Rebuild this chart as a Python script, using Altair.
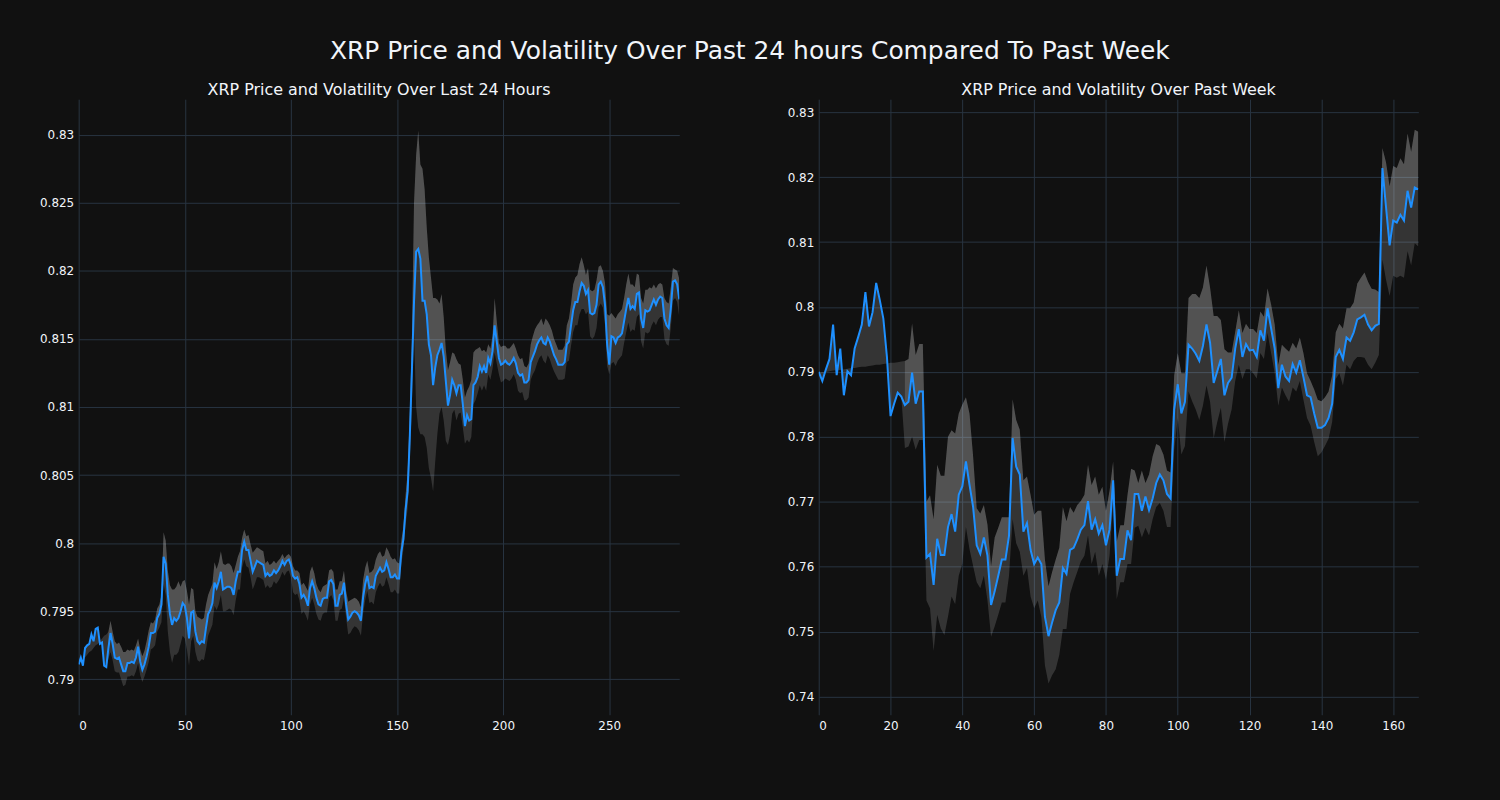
import altair as alt
import pandas as pd

# ---------------- Left panel: last 24 hours ----------------
left_price = [
    0.7911, 0.7916, 0.7910, 0.7923, 0.7925, 0.7926, 0.7933, 0.7928, 0.7937, 0.7938,
    0.7926, 0.7927, 0.7910, 0.7909, 0.7923, 0.7934, 0.7926, 0.7916, 0.7915, 0.7916,
    0.7911, 0.7906, 0.7906, 0.7912, 0.7912, 0.7913, 0.7912, 0.7916, 0.7924, 0.7913,
    0.7907, 0.7911, 0.7917, 0.7924, 0.7934, 0.7934, 0.7935, 0.7945, 0.7948, 0.7955,
    0.7990, 0.7985, 0.7962, 0.7948, 0.7940, 0.7945, 0.7943, 0.7945, 0.7950, 0.7956,
    0.7954, 0.7945, 0.7930, 0.7949, 0.7950, 0.7935, 0.7928, 0.7926, 0.7928, 0.7927,
    0.7938, 0.7948, 0.7951, 0.7956, 0.7971, 0.7967, 0.7972, 0.7979, 0.7966, 0.7967,
    0.7968, 0.7968, 0.7967, 0.7962, 0.7972, 0.7979, 0.7979, 0.7995, 0.8001, 0.7995,
    0.7995, 0.7987, 0.7979, 0.7983, 0.7987, 0.7986, 0.7985, 0.7984, 0.7976, 0.7978,
    0.7976, 0.7977, 0.7980, 0.7978, 0.7980, 0.7983, 0.7987, 0.7984, 0.7987, 0.7988,
    0.7984, 0.7976, 0.7974, 0.7975, 0.7970, 0.7960, 0.7962, 0.7959, 0.7954, 0.7967,
    0.7972, 0.7967, 0.7960, 0.7955, 0.7954, 0.7959, 0.7960, 0.7960, 0.7972, 0.7973,
    0.7970, 0.7954, 0.7954, 0.7962, 0.7963, 0.7971, 0.7955, 0.7944, 0.7946, 0.7949,
    0.7950, 0.7949, 0.7947, 0.7943, 0.7960, 0.7970, 0.7976, 0.7967, 0.7968, 0.7967,
    0.7976, 0.7979, 0.7982, 0.7979, 0.7980, 0.7986, 0.7981, 0.7975, 0.7975, 0.7977,
    0.7974, 0.7974, 0.7993, 0.8003, 0.8024, 0.8038, 0.8077, 0.8126, 0.8177, 0.8214,
    0.8216, 0.8209, 0.8178, 0.8178, 0.8168, 0.8146, 0.8138, 0.8116, 0.8129, 0.8138,
    0.8142, 0.8147, 0.8137, 0.8119, 0.8101, 0.8109, 0.8120, 0.8116, 0.8110, 0.8116,
    0.8116, 0.8102, 0.8086, 0.8094, 0.8090, 0.8091, 0.8116, 0.8118, 0.8122, 0.8130,
    0.8126, 0.8130, 0.8125, 0.8136, 0.8132, 0.8141, 0.8160, 0.8148, 0.8136, 0.8131,
    0.8132, 0.8134, 0.8132, 0.8131, 0.8133, 0.8136, 0.8132, 0.8125, 0.8123, 0.8124,
    0.8118, 0.8118, 0.8120, 0.8133, 0.8137, 0.8141, 0.8146, 0.8149, 0.8151, 0.8147,
    0.8146, 0.8151, 0.8148, 0.8143, 0.8138, 0.8135, 0.8131, 0.8131, 0.8131, 0.8133,
    0.8146, 0.8148, 0.8160, 0.8171, 0.8177, 0.8177, 0.8185, 0.8191, 0.8189, 0.8183,
    0.8186, 0.8169, 0.8168, 0.8169, 0.8175, 0.8190, 0.8192, 0.8188, 0.8175, 0.8146,
    0.8131, 0.8152, 0.8151, 0.8147, 0.8151, 0.8152, 0.8154, 0.8163, 0.8172, 0.8180,
    0.8172, 0.8174, 0.8172, 0.8183, 0.8184, 0.8165, 0.8158, 0.8171, 0.8170, 0.8171,
    0.8175, 0.8179, 0.8175, 0.8179, 0.8181, 0.8180, 0.8165, 0.8160, 0.8158, 0.8172,
    0.8192, 0.8193, 0.8190, 0.8179,
]

left_upper = [
    0.7911, 0.7913, 0.7914, 0.7916, 0.7918, 0.7920, 0.7921, 0.7923, 0.7925, 0.7926,
    0.7928, 0.7930, 0.7932, 0.7933, 0.7935, 0.7943, 0.7935, 0.7928, 0.7926, 0.7927,
    0.7924, 0.7920, 0.7920, 0.7922, 0.7921, 0.7922, 0.7921, 0.7925, 0.7930, 0.7922,
    0.7917, 0.7921, 0.7928, 0.7936, 0.7942, 0.7941, 0.7944, 0.7952, 0.7955, 0.7962,
    0.8008, 0.8002, 0.7980, 0.7969, 0.7966, 0.7966, 0.7968, 0.7972, 0.7968, 0.7972,
    0.7973, 0.7965, 0.7955, 0.7967, 0.7966, 0.7950, 0.7946, 0.7945, 0.7944, 0.7945,
    0.7955, 0.7962, 0.7966, 0.7970, 0.7986, 0.7981, 0.7986, 0.7994, 0.7985, 0.7984,
    0.7985, 0.7985, 0.7983, 0.7978, 0.7984, 0.7990, 0.7994, 0.8004, 0.8010, 0.8005,
    0.8006, 0.7999, 0.7993, 0.7995, 0.7997, 0.7996, 0.7995, 0.7994, 0.7985, 0.7987,
    0.7984, 0.7985, 0.7987, 0.7985, 0.7987, 0.7989, 0.7992, 0.7989, 0.7991, 0.7992,
    0.7990, 0.7983, 0.7980, 0.7980, 0.7978, 0.7969, 0.7971, 0.7968, 0.7965, 0.7979,
    0.7983, 0.7978, 0.7970, 0.7966, 0.7964, 0.7968, 0.7969, 0.7970, 0.7980, 0.7981,
    0.7979, 0.7966, 0.7966, 0.7972, 0.7972, 0.7980, 0.7965, 0.7957, 0.7958, 0.7959,
    0.7960, 0.7959, 0.7957, 0.7953, 0.7973, 0.7982, 0.7987, 0.7978, 0.7979, 0.7981,
    0.7988, 0.7992, 0.7994, 0.7990, 0.7991, 0.7997, 0.7994, 0.7990, 0.7988, 0.7989,
    0.7986, 0.7985, 0.8002, 0.8012, 0.8035, 0.8052, 0.8095, 0.8150, 0.8250, 0.8285,
    0.8303, 0.8278, 0.8275, 0.8260, 0.8232, 0.8210, 0.8195, 0.8180, 0.8180, 0.8179,
    0.8176, 0.8183, 0.8166, 0.8142, 0.8127, 0.8133, 0.8140, 0.8139, 0.8135, 0.8132,
    0.8131, 0.8120, 0.8107, 0.8112, 0.8115, 0.8120, 0.8140, 0.8142, 0.8143, 0.8144,
    0.8141, 0.8142, 0.8140, 0.8146, 0.8143, 0.8152, 0.8180, 0.8163, 0.8147, 0.8144,
    0.8145, 0.8145, 0.8143, 0.8143, 0.8145, 0.8147, 0.8143, 0.8138, 0.8135, 0.8136,
    0.8130, 0.8129, 0.8132, 0.8146, 0.8152, 0.8157, 0.8160, 0.8162, 0.8165, 0.8160,
    0.8165, 0.8163, 0.8160, 0.8156, 0.8150, 0.8146, 0.8142, 0.8142, 0.8142, 0.8145,
    0.8160, 0.8165, 0.8176, 0.8190, 0.8195, 0.8197, 0.8205, 0.8210, 0.8204, 0.8197,
    0.8202, 0.8186, 0.8185, 0.8186, 0.8193, 0.8203, 0.8204, 0.8200, 0.8191, 0.8168,
    0.8167, 0.8169, 0.8167, 0.8165, 0.8168, 0.8170, 0.8172, 0.8180, 0.8190, 0.8198,
    0.8190, 0.8190, 0.8188, 0.8198, 0.8197, 0.8180, 0.8176, 0.8186, 0.8186, 0.8188,
    0.8187, 0.8190, 0.8187, 0.8190, 0.8191, 0.8190, 0.8180, 0.8177, 0.8176, 0.8188,
    0.8202, 0.8201, 0.8200, 0.8194,
]

left_band_start = 14
left_lower = [None] * 14 + [
    0.7915, 0.7920, 0.7914, 0.7906, 0.7905, 0.7905,
    0.7900, 0.7895, 0.7896, 0.7902, 0.7902, 0.7903, 0.7902, 0.7906, 0.7912, 0.7903,
    0.7898, 0.7902, 0.7907, 0.7913, 0.7922, 0.7923, 0.7925, 0.7935, 0.7938, 0.7942,
    0.7970, 0.7962, 0.7935, 0.7920, 0.7912, 0.7918, 0.7918, 0.7920, 0.7926, 0.7932,
    0.7930, 0.7922, 0.7910, 0.7928, 0.7932, 0.7920, 0.7914, 0.7913, 0.7915, 0.7914,
    0.7922, 0.7932, 0.7936, 0.7940, 0.7954, 0.7951, 0.7955, 0.7962, 0.7950, 0.7950,
    0.7951, 0.7952, 0.7951, 0.7947, 0.7958, 0.7966, 0.7966, 0.7982, 0.7988, 0.7983,
    0.7982, 0.7975, 0.7966, 0.7970, 0.7975, 0.7975, 0.7974, 0.7973, 0.7967, 0.7969,
    0.7967, 0.7968, 0.7972, 0.7970, 0.7972, 0.7975, 0.7979, 0.7976, 0.7979, 0.7980,
    0.7975, 0.7964, 0.7962, 0.7963, 0.7958, 0.7948, 0.7950, 0.7947, 0.7943, 0.7955,
    0.7960, 0.7955, 0.7948, 0.7944, 0.7943, 0.7948, 0.7949, 0.7949, 0.7960, 0.7962,
    0.7958, 0.7943, 0.7943, 0.7951, 0.7952, 0.7960, 0.7945, 0.7933, 0.7934, 0.7937,
    0.7939, 0.7938, 0.7936, 0.7932, 0.7948, 0.7958, 0.7965, 0.7956, 0.7957, 0.7955,
    0.7964, 0.7968, 0.7971, 0.7968, 0.7969, 0.7975, 0.7970, 0.7964, 0.7964, 0.7966,
    0.7963, 0.7963, 0.7984, 0.7995, 0.8013, 0.8025, 0.8060, 0.8102, 0.8155, 0.8100,
    0.8085, 0.8080, 0.8080, 0.8078, 0.8070, 0.8055, 0.8048, 0.8038, 0.8060, 0.8080,
    0.8095, 0.8100, 0.8090, 0.8075, 0.8072, 0.8080, 0.8095, 0.8098, 0.8090, 0.8095,
    0.8096, 0.8085, 0.8073, 0.8076, 0.8074, 0.8078, 0.8102, 0.8105, 0.8110, 0.8116,
    0.8112, 0.8116, 0.8112, 0.8124, 0.8120, 0.8128, 0.8140, 0.8132, 0.8124, 0.8118,
    0.8119, 0.8121, 0.8120, 0.8119, 0.8121, 0.8124, 0.8120, 0.8112, 0.8110, 0.8111,
    0.8105, 0.8105, 0.8107, 0.8120, 0.8124, 0.8127, 0.8132, 0.8136, 0.8138, 0.8134,
    0.8132, 0.8138, 0.8135, 0.8130, 0.8126, 0.8123, 0.8120, 0.8120, 0.8120, 0.8121,
    0.8133, 0.8134, 0.8145, 0.8155, 0.8160, 0.8160, 0.8168, 0.8172, 0.8172, 0.8168,
    0.8170, 0.8152, 0.8150, 0.8152, 0.8158, 0.8173, 0.8176, 0.8173, 0.8160, 0.8130,
    0.8124, 0.8132, 0.8133, 0.8130, 0.8134, 0.8136, 0.8138, 0.8147, 0.8155, 0.8162,
    0.8155, 0.8157, 0.8156, 0.8166, 0.8168, 0.8148, 0.8143, 0.8155, 0.8154, 0.8155,
    0.8160, 0.8163, 0.8160, 0.8164, 0.8166, 0.8166, 0.8150, 0.8146, 0.8145, 0.8158,
    0.8178, 0.8180, 0.8177, 0.8166,
]

# ---------------- Right panel: past week ----------------
right_price = [
    0.7900, 0.7886, 0.7904, 0.7920, 0.7973, 0.7895, 0.7936, 0.7864, 0.7901, 0.7895,
    0.7936, 0.7954, 0.7973, 0.8023, 0.7970, 0.7992, 0.8037, 0.8011, 0.7982, 0.7923,
    0.7832, 0.7851, 0.7868, 0.7862, 0.7849, 0.7854, 0.7899, 0.7851, 0.7870, 0.7870,
    0.7614, 0.7620, 0.7572, 0.7643, 0.7618, 0.7618, 0.7661, 0.7681, 0.7654, 0.7711,
    0.7724, 0.7762, 0.7726, 0.7692, 0.7633, 0.7620, 0.7645, 0.7617, 0.7541, 0.7562,
    0.7586, 0.7611, 0.7611, 0.7648, 0.7798, 0.7754, 0.7742, 0.7654, 0.7667, 0.7626,
    0.7604, 0.7614, 0.7604, 0.7523, 0.7493, 0.7514, 0.7533, 0.7545, 0.7598, 0.7589,
    0.7626, 0.7629, 0.7642, 0.7657, 0.7664, 0.7701, 0.7657, 0.7673, 0.7651, 0.7664,
    0.7633, 0.7657, 0.7733, 0.7586, 0.7612, 0.7612, 0.7656, 0.7641, 0.7712, 0.7712,
    0.7686, 0.7708, 0.7687, 0.7705, 0.7729, 0.7742, 0.7733, 0.7712, 0.7705, 0.7842,
    0.7881, 0.7836, 0.7854, 0.7942, 0.7936, 0.7928, 0.7917, 0.7940, 0.7973, 0.7945,
    0.7883, 0.7901, 0.7920, 0.7864, 0.7883, 0.7891, 0.7936, 0.7966, 0.7923, 0.7943,
    0.7933, 0.7934, 0.7923, 0.7964, 0.7948, 0.7998, 0.7967, 0.7936, 0.7875, 0.7911,
    0.7893, 0.7886, 0.7912, 0.7899, 0.7918, 0.7892, 0.7864, 0.7861, 0.7836, 0.7814,
    0.7814, 0.7818, 0.7829, 0.7851, 0.7923, 0.7934, 0.7920, 0.7953, 0.7948, 0.7961,
    0.7981, 0.7984, 0.7988, 0.7973, 0.7964, 0.7971, 0.7974, 0.8214, 0.8154, 0.8095,
    0.8133, 0.8130, 0.8142, 0.8133, 0.8179, 0.8153, 0.8184, 0.8181,
]

right_upper = [
    0.7899, 0.7900, 0.7900, 0.7901, 0.7902, 0.7903, 0.7903, 0.7904, 0.7905, 0.7906,
    0.7906, 0.7907, 0.7908, 0.7908, 0.7909, 0.7910, 0.7911, 0.7911, 0.7912, 0.7913,
    0.7914, 0.7914, 0.7915, 0.7916, 0.7917, 0.7920, 0.7975, 0.7926, 0.7943, 0.7943,
    0.7700, 0.7710, 0.7673, 0.7757, 0.7740, 0.7740, 0.7800, 0.7810, 0.7805, 0.7836,
    0.7850, 0.7861, 0.7836, 0.7770, 0.7690, 0.7682, 0.7695, 0.7665, 0.7601, 0.7645,
    0.7660, 0.7676, 0.7676, 0.7676, 0.7858, 0.7826, 0.7811, 0.7733, 0.7739, 0.7711,
    0.7680, 0.7686, 0.7686, 0.7611, 0.7570, 0.7592, 0.7611, 0.7629, 0.7692, 0.7670,
    0.7692, 0.7683, 0.7695, 0.7701, 0.7711, 0.7757, 0.7726, 0.7739, 0.7711, 0.7723,
    0.7686, 0.7717, 0.7762, 0.7639, 0.7664, 0.7664, 0.7711, 0.7751, 0.7748, 0.7729,
    0.7748, 0.7729, 0.7742, 0.7770, 0.7789, 0.7786, 0.7773, 0.7748, 0.7745, 0.7895,
    0.7929, 0.7898, 0.7898, 0.8014, 0.8020, 0.8020, 0.8014, 0.8030, 0.8064, 0.8030,
    0.7986, 0.7986, 0.7980, 0.7935, 0.7930, 0.7930, 0.7962, 0.7995, 0.7960, 0.7974,
    0.7966, 0.7966, 0.7960, 0.7993, 0.7985, 0.8029, 0.8004, 0.7973, 0.7911, 0.7942,
    0.7936, 0.7931, 0.7945, 0.7936, 0.7953, 0.7929, 0.7898, 0.7886, 0.7873, 0.7857,
    0.7855, 0.7861, 0.7870, 0.7895, 0.7961, 0.7974, 0.7967, 0.7998, 0.7998, 0.8007,
    0.8036, 0.8045, 0.8053, 0.8039, 0.8028, 0.8027, 0.8023, 0.8245, 0.8223, 0.8186,
    0.8217, 0.8214, 0.8229, 0.8220, 0.8267, 0.8239, 0.8273, 0.8270,
]

right_band_start = 24
right_lower = [None] * 24 + [
    0.7783, 0.7785, 0.7800, 0.7780, 0.7795, 0.7795,
    0.7548, 0.7536, 0.7470, 0.7526, 0.7505, 0.7495, 0.7523, 0.7554, 0.7542, 0.7586,
    0.7605, 0.7661, 0.7627, 0.7601, 0.7576, 0.7567, 0.7586, 0.7548, 0.7492, 0.7508,
    0.7526, 0.7545, 0.7545, 0.7586, 0.7673, 0.7636, 0.7623, 0.7586, 0.7598, 0.7554,
    0.7536, 0.7548, 0.7523, 0.7448, 0.7420, 0.7433, 0.7442, 0.7464, 0.7504, 0.7504,
    0.7558, 0.7576, 0.7592, 0.7608, 0.7617, 0.7648, 0.7604, 0.7623, 0.7586, 0.7604,
    0.7580, 0.7617, 0.7698, 0.7550, 0.7576, 0.7576, 0.7604, 0.7604, 0.7660, 0.7663,
    0.7645, 0.7660, 0.7648, 0.7673, 0.7692, 0.7698, 0.7686, 0.7661, 0.7661, 0.7780,
    0.7829, 0.7773, 0.7786, 0.7870, 0.7855, 0.7842, 0.7826, 0.7848, 0.7879, 0.7854,
    0.7798, 0.7823, 0.7845, 0.7792, 0.7820, 0.7842, 0.7886, 0.7911, 0.7889, 0.7904,
    0.7904, 0.7898, 0.7890, 0.7929, 0.7920, 0.7960, 0.7929, 0.7898, 0.7848, 0.7876,
    0.7864, 0.7854, 0.7876, 0.7870, 0.7886, 0.7857, 0.7829, 0.7817, 0.7792, 0.7770,
    0.7776, 0.7786, 0.7797, 0.7823, 0.7889, 0.7898, 0.7879, 0.7911, 0.7904, 0.7917,
    0.7923, 0.7923, 0.7922, 0.7911, 0.7904, 0.7914, 0.7926, 0.8073, 0.8042, 0.8017,
    0.8048, 0.8045, 0.8048, 0.8045, 0.8086, 0.8064, 0.8098, 0.8093,
]

left_y_ticks = [0.79, 0.795, 0.80, 0.805, 0.81, 0.815, 0.82, 0.825, 0.83]
left_x_ticks = [0, 50, 100, 150, 200, 250]
right_y_ticks = [0.74, 0.75, 0.76, 0.77, 0.78, 0.79, 0.80, 0.81, 0.82, 0.83]
right_x_ticks = [0, 20, 40, 60, 80, 100, 120, 140, 160]

MAIN_TITLE = "XRP Price and Volatility Over Past 24 hours Compared To Past Week"
LEFT_TITLE = "XRP Price and Volatility Over Last 24 Hours"
RIGHT_TITLE = "XRP Price and Volatility Over Past Week"

BG = "#111111"
GRID = "#283442"
TXT = "#f2f5fa"
LINE = "#1e90ff"
FONT = "DejaVu Sans"


def build_frame(price, upper, lower, start):
    rows = []
    for i, p in enumerate(price):
        lo_a = p if i < start else lower[i]
        rows.append({
            "x": i,
            "price": p,
            "upper": upper[i],
            "lowA": lo_a,
            "priceB": p if i >= start else None,
            "upperB": upper[i] if i >= start else None,
        })
    return pd.DataFrame(rows)


def panel(df, title, xdom, ydom, xticks, yticks, yfmt, w, h):
    xs = alt.Scale(domain=xdom, nice=False, zero=False)
    ys = alt.Scale(domain=ydom, nice=False, zero=False)
    xax = alt.Axis(values=xticks, format="d", title=None, grid=True, gridColor=GRID,
                   domain=False, ticks=False, labelPadding=6, labelColor=TXT,
                   labelFontSize=12, labelFont=FONT)
    yax = alt.Axis(values=yticks, format=yfmt, title=None, grid=True, gridColor=GRID,
                   domain=False, ticks=False, labelPadding=5, labelColor=TXT,
                   labelFontSize=12, labelFont=FONT)
    base = alt.Chart(df)
    band_a = base.mark_area(color="#ffffff", opacity=0.15, clip=True).encode(
        x=alt.X("x:Q", scale=xs, axis=xax),
        y=alt.Y("upper:Q", scale=ys, axis=yax),
        y2="lowA:Q",
    )
    band_b = base.transform_filter("datum.priceB != null").mark_area(
        color="#ffffff", opacity=0.15, clip=True).encode(
        x=alt.X("x:Q", scale=xs),
        y=alt.Y("upperB:Q", scale=ys),
        y2="priceB:Q",
    )
    line = base.mark_line(color=LINE, strokeWidth=2, clip=True).encode(
        x=alt.X("x:Q", scale=xs),
        y=alt.Y("price:Q", scale=ys),
    )
    return alt.layer(band_a, band_b, line).properties(
        width=w, height=h,
        title=alt.TitleParams(title, fontSize=16, font=FONT, color=TXT,
                              fontWeight="normal", anchor="middle", offset=1),
    )


left_df = build_frame(left_price, left_upper, left_lower, left_band_start)
right_df = build_frame(right_price, right_upper, right_lower, right_band_start)

left = panel(left_df, LEFT_TITLE, [0, 283], [0.7874, 0.8326], left_x_ticks,
             left_y_ticks, ".3~f", 603, 618)
right = panel(right_df, RIGHT_TITLE, [0, 167], [0.7372, 0.8320], right_x_ticks,
              right_y_ticks, ".2~f", 602, 618)

chart = alt.hconcat(left, right, spacing=108).properties(
    background=BG,
    padding={"left": 39, "top": 38, "right": 82, "bottom": 69},
    title=alt.TitleParams(MAIN_TITLE, fontSize=25, font=FONT, color=TXT,
                          fontWeight="normal", anchor="middle", offset=18, dx=21),
).configure_view(stroke=None).configure_concat(spacing=108)

chart.save("out.html", embed_options={"renderer": "svg", "actions": False})
